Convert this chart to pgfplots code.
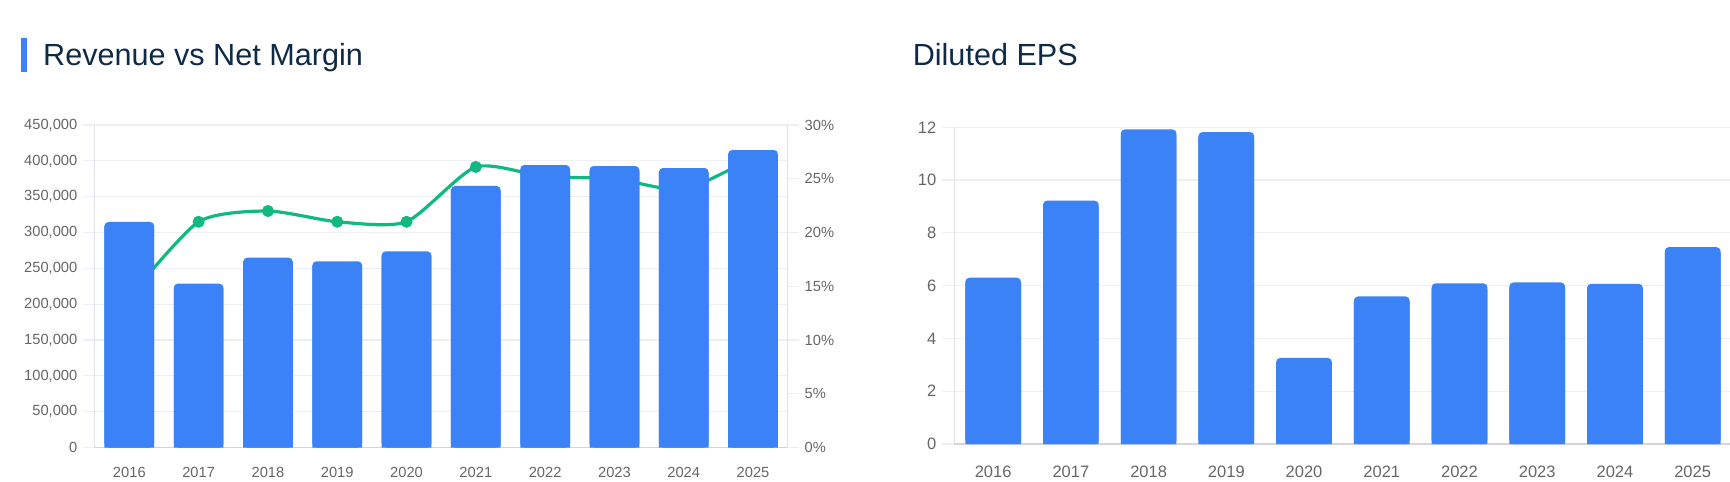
\documentclass[border=0pt]{standalone}
\usepackage{pgfplots}
\pgfplotsset{compat=1.18}
\usepackage{pgfplotstable}
\usepackage{fontspec}
\setmainfont{Liberation Sans}

\definecolor{barblue}{HTML}{3B82F6}
\definecolor{linegreen}{HTML}{10B981}
\definecolor{titleink}{HTML}{0F2A47}
\definecolor{ticktext}{HTML}{666666}
\definecolor{gridc}{HTML}{EDEFF3}
\definecolor{axisy}{HTML}{E2E3E8}
\definecolor{axisx}{HTML}{D3D5DB}

% Fiscal-year figures: revenue, net margin (%), diluted EPS
\pgfplotstableread{
idx year rev    margin eps
0   2016 314700 14.0   6.30
1   2017 228600 21.0   9.22
2   2018 264800 22.0   11.92
3   2019 259800 21.0   11.82
4   2020 273800 21.0   3.26
5   2021 364900 26.1   5.59
6   2022 394200 25.2   6.09
7   2023 392800 25.0   6.12
8   2024 390000 24.0   6.07
9   2025 415100 27.0   7.46
}\fin

\pgfplotsset{
  /pgf/number format/assume math mode=true,
  leftpanel/.style={
    at={(47.35pt,-223.75pt)}, anchor=south west, scale only axis,
    width=346.5pt, height=161.25pt,
    xmin=-0.5, xmax=9.5,
  },
  smalltick/.style={
    ticklabel style={font=\fontsize{7.35}{9}\selectfont, text=ticktext},
  },
}

\begin{document}
\begin{tikzpicture}[x=1pt,y=1pt]
\useasboundingbox (0pt,0pt) rectangle (865pt,-241pt);
\clip (0pt,0pt) rectangle (865pt,-241pt);

% headings
\fill[barblue] (10.5pt,-19.2pt) rectangle (13.35pt,-35.85pt);
\node[anchor=base west, inner sep=0pt, text=titleink,
      font=\fontsize{15.3}{18}\selectfont] at (21.4pt,-32.5pt) {Revenue vs Net Margin};
\node[anchor=base west, inner sep=0pt, text=titleink,
      font=\fontsize{15.3}{18}\selectfont] at (456.2pt,-32.5pt) {Diluted EPS};

% revenue scale, grid and year labels
\begin{axis}[leftpanel, smalltick,
  ymin=0, ymax=450000,
  axis x line*=bottom, axis y line*=left,
  x axis line style={draw=axisx, line width=0.6pt},
  y axis line style={draw=axisy, line width=0.6pt},
  xtick={0,...,9},
  xticklabels={2016,2017,2018,2019,2020,2021,2022,2023,2024,2025},
  xtick style={draw=none},
  ytick={0,50000,...,450000},
  scaled y ticks=false,
  yticklabel style={/pgf/number format/fixed, /pgf/number format/1000 sep={,}},
  ymajorgrids, grid style={draw=gridc, line width=0.6pt},
  tick align=outside, major tick length=6pt,
  ytick style={draw=gridc, line width=0.6pt},
  xticklabel style={inner sep=0pt, anchor=north, yshift=-3.8pt},
  yticklabel style={inner sep=0pt, anchor=east, xshift=-2.5pt},
]
\end{axis}

% net margin line on the right-hand scale
\begin{axis}[leftpanel, smalltick,
  ymin=0, ymax=30,
  axis x line=none, axis y line*=right,
  y axis line style={draw=axisy, line width=0.6pt},
  ytick={0,5,...,30},
  yticklabel={\pgfmathprintnumber{\tick}\%},
  tick align=outside, major tick length=5.8pt,
  ytick style={draw=gridc, line width=0.6pt},
  yticklabel style={inner sep=0pt, anchor=west, xshift=2.5pt},
]
\addplot[linegreen, line width=1.6pt, smooth, tension=0.4,
  mark=*, mark size=2.7pt,
  mark options={fill=linegreen, draw=linegreen, line width=0.6pt}]
  table[x=idx, y=margin]{\fin};
\end{axis}

% revenue bars
\begin{axis}[leftpanel, hide axis,
  ymin=0, ymax=450000, ybar, bar width=24.85pt]
\addplot[fill=barblue, draw=none, bar shift=0pt, rounded corners=2pt]
  table[x=idx, y=rev]{\fin};
\addplot[fill=barblue, draw=none, bar shift=0pt]
  table[x=idx, y expr=\thisrow{rev}-6000]{\fin};
\end{axis}

% diluted EPS
\begin{axis}[
  at={(477.15pt,-222pt)}, anchor=south west, scale only axis,
  width=388.6pt, height=158.35pt,
  xmin=-0.5, xmax=9.5, ymin=0, ymax=12,
  ticklabel style={font=\fontsize{8.25}{10}\selectfont, text=ticktext},
  axis x line*=bottom, axis y line*=left,
  x axis line style={draw=axisx, line width=0.6pt},
  y axis line style={draw=axisy, line width=0.6pt},
  xtick={0,...,9},
  xticklabels={2016,2017,2018,2019,2020,2021,2022,2023,2024,2025},
  xtick style={draw=none},
  ytick={0,2,...,12},
  ymajorgrids, grid style={draw=gridc, line width=0.6pt},
  tick align=outside, major tick length=6.3pt,
  ytick style={draw=gridc, line width=0.6pt},
  xticklabel style={inner sep=0pt, anchor=north, yshift=-4.4pt},
  yticklabel style={inner sep=0pt, anchor=east, xshift=-2.5pt},
  ybar, bar width=27.85pt,
]
\addplot[fill=barblue, draw=none, bar shift=0pt, rounded corners=2pt]
  table[x=idx, y=eps]{\fin};
\addplot[fill=barblue, draw=none, bar shift=0pt]
  table[x=idx, y expr=\thisrow{eps}-0.2]{\fin};
\end{axis}
\end{tikzpicture}
\end{document}
